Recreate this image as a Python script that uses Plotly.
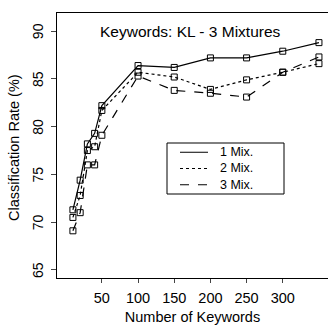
import plotly.graph_objects as go

keywords = [10, 20, 30, 40, 50, 100, 150, 200, 250, 300, 350]
mix1 = [71.3, 74.4, 78.2, 79.3, 82.2, 86.4, 86.2, 87.2, 87.2, 87.9, 88.8]
mix2 = [70.5, 72.8, 77.5, 77.9, 81.7, 85.7, 85.2, 83.9, 84.9, 85.7, 86.6]
mix3 = [69.1, 71.0, 76.0, 76.0, 79.1, 85.3, 83.8, 83.5, 83.1, 85.7, 87.3]
series_names = ["1 Mix.", "2 Mix.", "3 Mix."]
dashes = ["solid", "dot", "dash"]
xticks = [50, 100, 150, 200, 250, 300]
yticks = [65, 70, 75, 80, 85, 90]

font = "Liberation Sans, Arial, sans-serif"
W, H = 328, 325
ML, MR, MT, MB = 57, 0, 13, 47
pw, ph = W - ML - MR, H - MT - MB

def px(xp):
    return (xp - ML) / pw

def py(yp):
    return 1 - (yp - MT) / ph

fig = go.Figure()
for name, vals, d in zip(series_names, [mix1, mix2, mix3], dashes):
    fig.add_trace(go.Scatter(
        x=keywords, y=vals, name=name, mode="lines+markers", showlegend=False,
        line=dict(color="black", width=1.2, dash=d),
        marker=dict(symbol="square-open", size=6, color="black", line=dict(width=1)),
    ))

leg_font = 12.5
leg_step = leg_font * 1.3
leg_center = 168.5
shapes = []
annotations = []
# legend box
shapes.append(dict(type="rect", xref="paper", yref="paper",
                   x0=px(167), x1=px(284), y0=py(194), y1=py(143),
                   line=dict(color="black", width=1), fillcolor="white"))
for i, d in enumerate(dashes):
    yc = leg_center + (i - 1) * leg_step
    shapes.append(dict(type="line", xref="paper", yref="paper",
                       x0=px(180), x1=px(208), y0=py(yc), y1=py(yc),
                       line=dict(color="black", width=1, dash=d)))
annotations.append(dict(text="<br>".join(series_names), x=px(218), y=py(leg_center),
                        xref="paper", yref="paper", xanchor="left", yanchor="middle",
                        align="left", showarrow=False, font=dict(size=leg_font)))

annotations.append(dict(text="Keywords: KL - 3 Mixtures", x=px(190), y=py(32),
                        xref="paper", yref="paper", xanchor="center", yanchor="middle",
                        showarrow=False, font=dict(size=15.5)))
for v in yticks:
    annotations.append(dict(text=str(v), x=px(38), y=v, xref="paper", yref="y",
                            textangle=-90, showarrow=False, xanchor="center",
                            yanchor="middle", font=dict(size=14)))
annotations.append(dict(text="Classification Rate (%)", x=px(14), y=py(148),
                        xref="paper", yref="paper", textangle=-90, showarrow=False,
                        xanchor="center", yanchor="middle", font=dict(size=14.5)))

fig.update_layout(
    width=W, height=H, autosize=False,
    margin=dict(l=ML, r=MR, t=MT, b=MB),
    paper_bgcolor="white", plot_bgcolor="white",
    font=dict(family=font, size=13, color="black"),
    showlegend=False,
    shapes=shapes, annotations=annotations,
)
fig.update_xaxes(range=[-12, 362.5], tickvals=xticks, ticks="outside", ticklen=4,
                 showline=True, linecolor="black", linewidth=1, mirror=True,
                 showgrid=False, zeroline=False, automargin=False,
                 ticklabelstandoff=3,
                 title=dict(text="Number of Keywords", font=dict(size=14.5), standoff=6),
                 tickfont=dict(size=14.5))
fig.update_yaxes(range=[64.16, 91.9], tickvals=yticks, ticks="outside", ticklen=5,
                 showticklabels=False, automargin=False,
                 showline=True, linecolor="black", linewidth=1, mirror=False,
                 showgrid=False, zeroline=False)
fig.write_html("out.html", config={"displayModeBar": False},
               post_script="document.body.style.margin='0';")
